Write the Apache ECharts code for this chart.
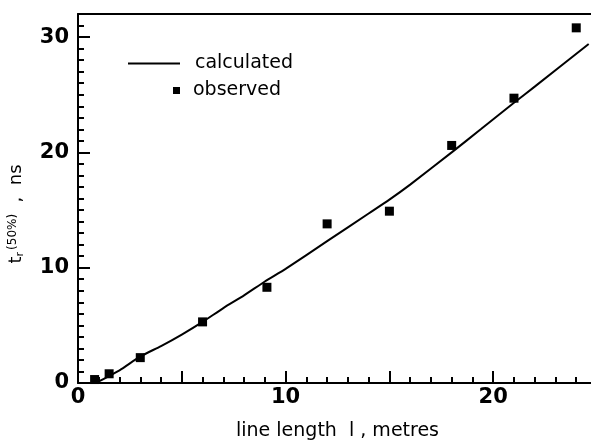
<!DOCTYPE html>
<html>
<head>
<meta charset="utf-8">
<script src="https://cdn.jsdelivr.net/npm/echarts@6/dist/echarts.min.js"></script>
<style>html,body{margin:0;padding:0;background:#fff}#c{width:591px;height:444px}</style>
</head>
<body>
<div id="c"></div>
<script>
// calculated curve (line length in metres, rise time in ns)
var calcX = [0.85, 2, 3, 4, 5, 6, 7, 8, 9, 10, 12, 14, 15, 16, 18, 19.4, 21, 22, 24.6];
var calcY = [0.0, 1.1, 2.3, 3.2, 4.2, 5.3, 6.5, 7.6, 8.8, 9.9, 12.3, 14.7, 15.9, 17.2, 20.0, 22.0, 24.3, 25.7, 29.4];
// observed points
var obsX = [0.8, 1.5, 3, 6, 9.1, 12, 15, 18, 21, 24];
var obsY = [0.3, 0.8, 2.2, 5.3, 8.3, 13.8, 14.9, 20.6, 24.7, 30.8];
// tick labels
var xLabels = [0, 10, 20];
var yLabels = [0, 10, 20, 30];

var chart = echarts.init(document.getElementById('c'), null, {renderer: 'canvas'});
var black = '#000';
var calcData = calcX.map(function (x, i) { return [x, calcY[i]]; });
var obsData = obsX.map(function (x, i) { return [x, obsY[i]]; });
function fmt(list) {
  return function (v) { return list.indexOf(Math.round(v * 1000) / 1000) >= 0 ? String(v) : ''; };
}

chart.setOption({
  animation: false,
  backgroundColor: '#fff',
  grid: {left: 78, right: -6, top: 14, bottom: 61, outerBoundsMode: 'none'},
  legend: [
    {
      data: [{name: 'calculated', icon: 'rect'}], left: 128, top: 54, padding: 0, orient: 'vertical',
      itemWidth: 52, itemHeight: 2,
      textStyle: {fontFamily: 'DejaVu Sans', fontSize: 19, color: black, padding: [0, 0, 0, 10]}
    },
    {
      data: [{name: 'observed', icon: 'rect'}], left: 173, top: 81, padding: 0,
      itemWidth: 7, itemHeight: 7,
      textStyle: {fontFamily: 'DejaVu Sans', fontSize: 19, color: black, padding: [0, 0, 0, 8]}
    }
  ],
  xAxis: [
    {
      type: 'value', min: 0, max: 25, interval: 1, position: 'bottom',
      name: 'line length  l , metres', nameLocation: 'middle', nameGap: 39,
      nameTextStyle: {fontFamily: 'DejaVu Sans', fontSize: 19, color: black},
      axisLine: {show: true, lineStyle: {color: black, width: 2}},
      axisTick: {show: true, inside: true, length: 6, interval: 0, lineStyle: {color: black, width: 2}},
      axisLabel: {formatter: fmt(xLabels), interval: 0, showMinLabel: true, showMaxLabel: false, fontFamily: 'DejaVu Sans', fontWeight: 'bold', fontSize: 21, color: black, margin: 4},
      splitLine: {show: false}
    },
    {
      type: 'value', min: 0, max: 25, interval: 5, position: 'bottom',
      axisLine: {show: false},
      axisTick: {show: true, inside: true, length: 12, lineStyle: {color: black, width: 2}},
      axisLabel: {show: false}, splitLine: {show: false}
    },
    {
      type: 'value', min: 0, max: 25, position: 'top',
      axisLine: {show: true, lineStyle: {color: black, width: 2}},
      axisTick: {show: false}, axisLabel: {show: false}, splitLine: {show: false}
    }
  ],
  yAxis: [
    {
      type: 'value', min: 0, max: 32, interval: 1, position: 'left',
      axisLine: {show: true, lineStyle: {color: black, width: 2}},
      axisTick: {show: true, inside: true, length: 6, interval: 0, lineStyle: {color: black, width: 2}},
      axisLabel: {formatter: fmt(yLabels), interval: 0, showMinLabel: true, showMaxLabel: false, fontFamily: 'DejaVu Sans', fontWeight: 'bold', fontSize: 21, color: black, margin: 9},
      splitLine: {show: false}
    },
    {
      type: 'value', min: 0, max: 32, interval: 10, position: 'left',
      axisLine: {show: false},
      axisTick: {show: true, inside: true, length: 12, lineStyle: {color: black, width: 2}},
      axisLabel: {show: false}, splitLine: {show: false}
    }
  ],
  graphic: [{
    type: 'text', x: 16, y: 214, rotation: Math.PI / 2,
    style: {
      text: 't{sub|r}{sm|(50%)}  ,  ns',
      fontFamily: 'DejaVu Sans', fontSize: 18, fill: black,
      align: 'center', verticalAlign: 'middle',
      rich: {
        sub: {fontFamily: 'DejaVu Sans', fontSize: 11, fill: black, verticalAlign: 'bottom', padding: [8, 2, 0, 0]},
        sm: {fontFamily: 'DejaVu Sans', fontSize: 12, fill: black, verticalAlign: 'top', padding: [0, 0, 4, 0]}
      }
    }
  }],
  series: [
    {
      name: 'calculated', type: 'line', smooth: 0.2, showSymbol: false, symbol: 'none',
      xAxisIndex: 0, yAxisIndex: 0,
      lineStyle: {color: black, width: 2}, itemStyle: {color: black},
      data: calcData, z: 3
    },
    {
      name: 'observed', type: 'scatter', symbol: 'rect', symbolSize: 9,
      xAxisIndex: 0, yAxisIndex: 0,
      itemStyle: {color: black, opacity: 1},
      data: obsData, z: 4
    }
  ]
});
</script>
</body>
</html>
